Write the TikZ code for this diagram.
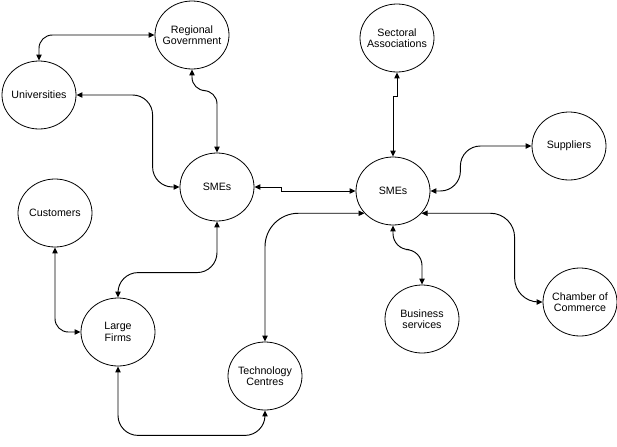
\documentclass[tikz,border=0pt]{standalone}
\usepackage{fontspec}
\setmainfont{Liberation Sans}
\usetikzlibrary{arrows.meta, shapes.geometric, calc}

\begin{document}
\begin{tikzpicture}[x=0.75pt, y=-0.75pt,
  >={Triangle[length=4.5pt, width=4pt]},
  actor/.style={draw, ellipse, line width=0.6pt, minimum width=55.5pt, minimum height=51pt, inner sep=-6pt, align=center, font=\fontsize{8}{8.5}\selectfont},
  link/.style={<->, line width=0.7pt}]

\useasboundingbox (0,0) rectangle (617,446);

% left cluster
\node[actor] (regov) at (192,35)  {Regional\\Government};
\node[actor] (univ)  at (39,95)   {Universities};
\node[actor] (smeA)  at (217,187) {SMEs};
\node[actor] (cust)  at (55,213)  {Customers};
\node[actor] (large) at (118,332) {Large\\Firms};
\node[actor] (tech)  at (265,376) {Technology\\Centres};

% right cluster
\node[actor] (sector) at (397,38)  {Sectoral\\Associations};
\node[actor] (smeB)   at (393,191) {SMEs};
\node[actor] (supp)   at (569,146) {Suppliers};
\node[actor] (busi)   at (422,319) {Business\\services};
\node[actor] (cham)   at (580,302) {Chamber of\\Commerce};

% links around the left SMEs
\draw[link, rounded corners=10] (regov.west) -| (univ.north);
\draw[link, rounded corners=15] (univ.east) -| ($(smeA.west)+(-27,0)$) -- (smeA.west);
\draw[link, rounded corners=10] (regov.south) |- ($(smeA.north)+(0,-62)$) -- (smeA.north);
\draw[link, rounded corners=15] (smeA.south) |- ($(large.north)+(0,-25)$) -- (large.north);
\draw[link, rounded corners=10] (cust.south) |- (large.west);
\draw[link, rounded corners=15] (large.south) |- ($(tech.south)+(0,25)$) -- (tech.south);

% SMEs to SMEs
\draw[link] (smeA.east) -| ($(smeB.west)+(-74,0)$) -- (smeB.west);

% links around the right SMEs
\draw[link] (sector.south) |- ($(smeB.north)+(0,-60)$) -- (smeB.north);
\draw[link, rounded corners=15] (supp.west) -| ($(smeB.east)+(30,0)$) -- (smeB.east);
\draw[link, rounded corners=25] (smeB.218) -| (tech.north);
\draw[link, rounded corners=18] (smeB.-38) -| ($(cham.west)+(-28,0)$) -- (cham.west);
\draw[link, rounded corners=12] (smeB.south) |- ($(busi.north)+(0,-35)$) -- (busi.north);

\end{tikzpicture}
\end{document}
